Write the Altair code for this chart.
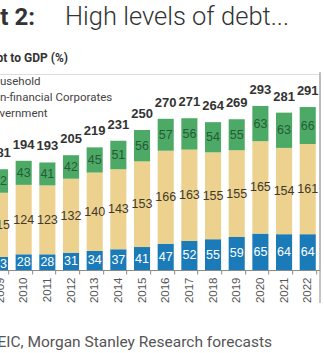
import altair as alt
import pandas as pd

years = [str(y) for y in range(2009, 2023)]
household = [23, 28, 28, 31, 34, 37, 41, 47, 52, 55, 59, 65, 64, 64]
corporates = [115, 124, 123, 132, 140, 143, 153, 166, 163, 155, 155, 165, 154, 161]
government = [42, 43, 41, 42, 45, 51, 56, 57, 56, 54, 55, 63, 63, 66]
totals = [181, 194, 193, 205, 219, 231, 250, 270, 271, 264, 269, 293, 281, 291]

series = ["Household", "Non-financial Corporates", "Government"]
colors = ["#1b7bb8", "#edd18f", "#4caa66"]
text_colors = ["#ffffff", "#3f3a2a", "#265c36"]

rows = []
for i, y in enumerate(years):
    for k, vals in enumerate([household, corporates, government]):
        rows.append({"year": y, "series": series[k], "value": vals[i],
                     "order": k, "tc": text_colors[k]})
df = pd.DataFrame(rows)
tot = pd.DataFrame({"year": years, "total": totals})

# plot area geometry (page coordinates)
X0 = -11.83
TOP = 74
W = 331.4
H = 196

def px(x):
    return x - X0

def py(y):
    return y - TOP

xenc = alt.X("year:O", title=None,
             scale=alt.Scale(paddingInner=0.32, paddingOuter=0.16),
             axis=alt.Axis(labelAngle=-90, tickBand="extent", labelFont="Liberation Sans",
                           labelFontSize=11.5, labelColor="#555555", domainColor="#8a8a8a",
                           tickColor="#8a8a8a", tickSize=4, labelPadding=3))
yscale = alt.Scale(domain=[0, 350])

bars = alt.Chart(df).mark_bar().encode(
    x=xenc,
    y=alt.Y("value:Q", stack="zero", scale=yscale, axis=None),
    color=alt.Color("series:N", scale=alt.Scale(domain=series, range=colors),
                    legend=alt.Legend(title=None, orient="none", legendX=-19, legendY=2,
                                      labelFont="Roboto", labelFontSize=11.5, labelColor="#444444",
                                      symbolType="square", symbolSize=100, rowPadding=4)),
    order=alt.Order("order:Q"),
)

seg = alt.Chart(df).transform_stack(
    stack="value", groupby=["year"], as_=["y0", "y1"], sort=[alt.SortField("order")]
).transform_calculate(mid="(datum.y0 + datum.y1) / 2").mark_text(
    font="Liberation Sans", fontSize=12.5, baseline="middle"
).encode(
    x="year:O",
    y=alt.Y("mid:Q", scale=yscale),
    text="value:Q",
    color=alt.Color("tc:N", scale=None),
)

tots = alt.Chart(tot).mark_text(
    font="Liberation Sans", fontSize=13, fontWeight="bold", color="#333333",
    baseline="alphabetic", dy=-12
).encode(x="year:O", y=alt.Y("total:Q", scale=yscale), text="total:Q")

one = pd.DataFrame({"t": [""]})

def label(text, x, y, size, weight="normal", align="left", color="#333333", font="Roboto"):
    return alt.Chart(pd.DataFrame({"t": [text]})).mark_text(
        font=font, fontSize=size, fontWeight=weight, align=align,
        baseline="alphabetic", color=color
    ).encode(x=alt.value(px(x)), y=alt.value(py(y)), text="t:N")

title1 = label("Exhibit 2:", 35, 25, 24, weight="bold", align="right", color="#333333")
title2 = label("High levels of debt...", 65, 25, 25.5, weight=300, align="left", color="#333333")
sub = label("Debt to GDP (%)", 68, 62, 12, weight="bold", align="right", color="#333333")
foot = label("Source: CEIC, Morgan Stanley Research forecasts", 272, 347, 15.5,
             weight="normal", align="right", color="#555555")

vline = alt.Chart(one).mark_rule(color="#8a8a8a", strokeWidth=1).encode(
    x=alt.value(px(320)), y=alt.value(py(72)), y2=alt.value(py(303))
)

chart = alt.layer(bars, seg, tots, title1, title2, sub, foot, vline).properties(
    width=W, height=H,
    autosize=alt.AutoSizeParams(type="none"),
    padding={"left": X0, "top": TOP, "right": 324 - (W + X0), "bottom": 353 - TOP - H},
).configure_view(stroke=None).configure(background="white")

chart.save("out.html", embed_options={"renderer": "svg", "actions": False})
